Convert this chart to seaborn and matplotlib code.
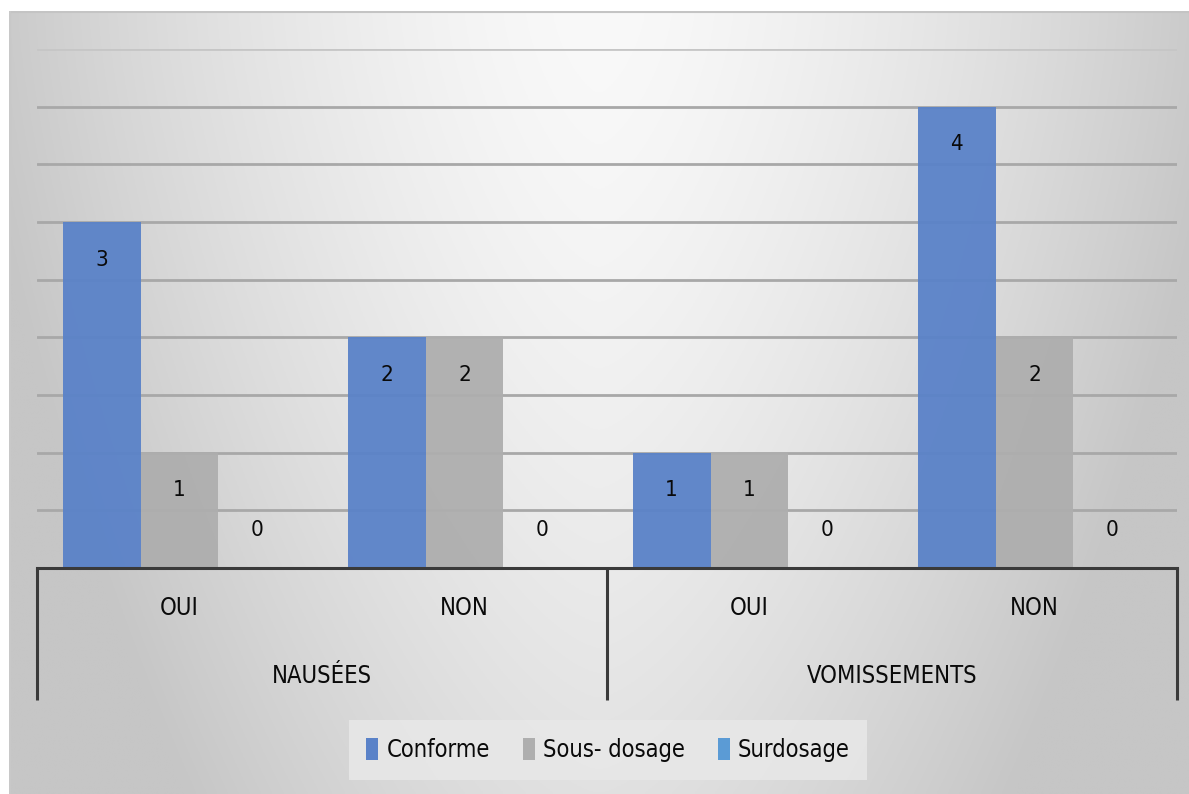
import numpy as np
import pandas as pd
import matplotlib
matplotlib.use("Agg")
import matplotlib.pyplot as plt
from matplotlib.patches import Patch
import seaborn as sns

# Data
groups = ["NAUSÉES", "NAUSÉES", "VOMISSEMENTS", "VOMISSEMENTS"]
answers = ["OUI", "NON", "OUI", "NON"]
series_names = ["Conforme", "Sous- dosage", "Surdosage"]
conforme = [3, 2, 1, 4]
sous_dosage = [1, 2, 1, 2]
surdosage = [0, 0, 0, 0]
colors = ["#5a82c8", "#aeaeae", "#5b9bd5"]

sns.set_theme(style="white")
plt.rcParams["font.family"] = ["DejaVu Sans"]
plt.rcParams["font.stretch"] = "condensed"
TXT = dict(fontstretch="condensed", color="#0a0a0a")

keys = [f"{g}|{a}" for g, a in zip(groups, answers)]
df = pd.DataFrame({
    "cat": keys * 3,
    "serie": sum([[s] * 4 for s in series_names], []),
    "value": conforme + sous_dosage + surdosage,
})

W, H = 1189, 794
fig = plt.figure(figsize=(W / 100, H / 100), dpi=100)
fig.patch.set_facecolor("white")

# Chart-area background: light at the top centre, greyer toward the edges
bg = fig.add_axes([9 / W, 0, 1 - 9 / W, 1 - 11 / H], zorder=-10)
ny, nx = 300, 600
yy, xx = np.mgrid[0:1:ny * 1j, 0:1:nx * 1j]
shade = 249 - 46 * (np.abs(xx - 0.5) * 2) ** 1.5 - 24 * yy ** 1.4
shade = np.clip(shade, 198, 250)
img = np.dstack([shade, shade, shade]) / 255.0
bg.imshow(img, aspect="auto", extent=[0, 1, 1, 0])
bg.set_axis_off()
bg.plot([0, 1], [0.999, 0.999], color="#c4c4c4", lw=1.5, transform=bg.transAxes)
bg.plot([0.0005, 0.0005], [0, 1], color="#c8c8c8", lw=1.5, transform=bg.transAxes)

# Main plot area
left, right = 37 / W, 1177 / W
bottom, top = 1 - 568 / H, 1 - 49 / H
ax = fig.add_axes([left, bottom, right - left, top - bottom])
ax.set_facecolor("none")

sns.barplot(data=df, x="cat", y="value", hue="serie", order=keys,
            hue_order=series_names, palette=colors, width=0.82, gap=0,
            saturation=1, alpha=0.95, linewidth=0, edgecolor="none",
            ax=ax, legend=False, zorder=2)

ax.set_xlim(-0.5, 3.5)
ax.set_ylim(0, 4.5)
ax.set_yticks(np.arange(0.5, 4.51, 0.5))
ax.yaxis.grid(True, color="#a8a8a8", lw=2)
ax.set_axisbelow(True)
ax.tick_params(left=False, bottom=False, labelleft=False, labelbottom=False)
ax.set_xlabel("")
ax.set_ylabel("")
for side in ["top", "right", "left"]:
    ax.spines[side].set_visible(False)
ax.spines["bottom"].set_color("#3a3a3a")
ax.spines["bottom"].set_linewidth(2.2)
ax.get_ygridlines()[-1].set_color("#c6c6c6")

# Value labels just inside the top of each bar (above the baseline for zeros)
for cont in ax.containers:
    for bar, v in zip(cont.patches, cont.datavalues):
        dy = -27 if v > 0 else 27
        ax.annotate(f"{v:g}", xy=(bar.get_x() + bar.get_width() / 2, v),
                    xytext=(0, dy), textcoords="offset points",
                    ha="center", va="center", fontsize=16, zorder=5, **TXT)

# Two-level category axis
tr = ax.get_xaxis_transform()
for i, a in enumerate(answers):
    ax.text(i, -0.077, a, transform=tr, ha="center", va="center",
            fontsize=17, **TXT)
for gi, g in enumerate(["NAUSÉES", "VOMISSEMENTS"]):
    ax.text(gi * 2 + 0.5, -0.208, g, transform=tr, ha="center",
            va="center", fontsize=17, **TXT)
for xb in [-0.5, 1.5, 3.5]:
    ax.plot([xb, xb], [0, -0.255], transform=tr, color="#3a3a3a",
            lw=2.2, clip_on=False, solid_capstyle="butt")

# Legend
handles = [Patch(facecolor=c, edgecolor="none") for c in colors]
leg = fig.legend(handles, series_names, loc="center", ncol=3,
                 bbox_to_anchor=(608 / W, 1 - 750 / H), frameon=True,
                 prop=dict(size=17, stretch="condensed"),
                 handlelength=0.5, handleheight=1.1,
                 handletextpad=0.35, columnspacing=1.4,
                 borderpad=0.75, fancybox=False)
for t in leg.get_texts():
    t.set_color("#0a0a0a")
leg.get_frame().set_facecolor("#e8e8e8")
leg.get_frame().set_alpha(0.85)
leg.get_frame().set_edgecolor("none")

fig.savefig("out.png", dpi=100)
